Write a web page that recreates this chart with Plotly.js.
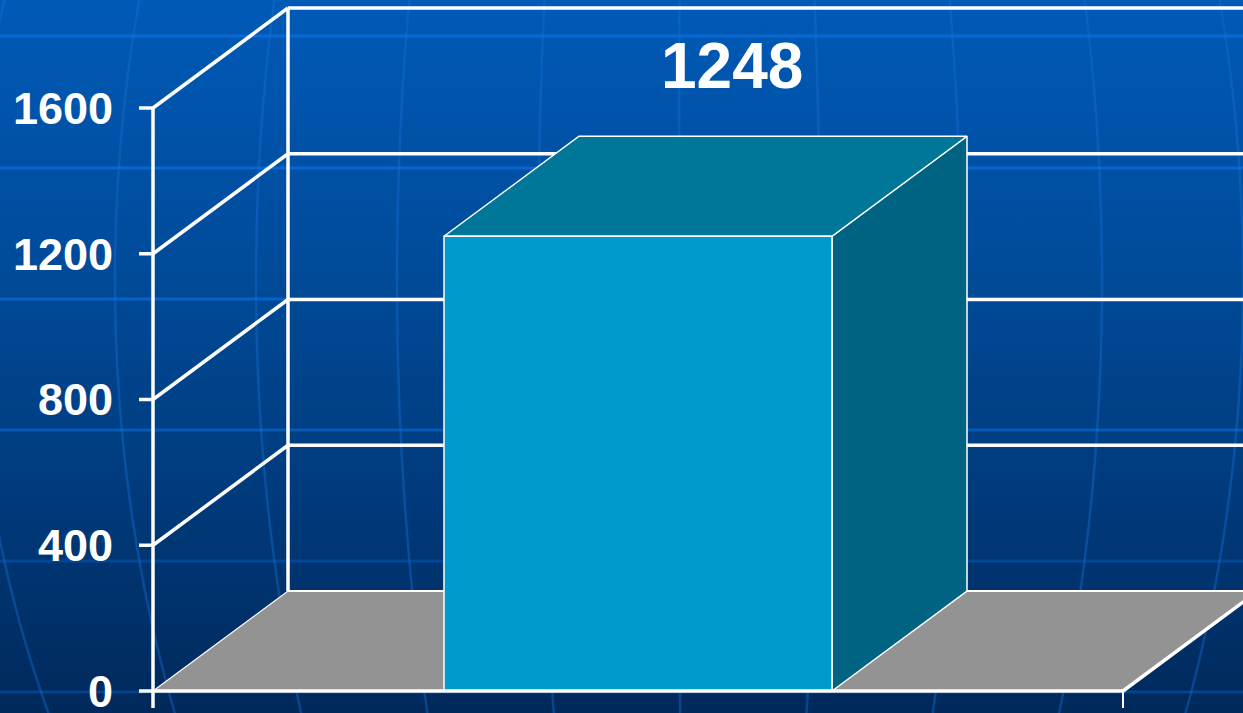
<!DOCTYPE html>
<html><head><meta charset="utf-8">
<script src="https://cdn.plot.ly/plotly-3.0.1.min.js"></script>
<style>
html,body{margin:0;padding:0;width:1243px;height:713px;overflow:hidden;background:#003a7c;}
#bg{position:absolute;left:0;top:0;width:1243px;height:713px;background:linear-gradient(to bottom,#005ab6 0%,#004c9c 35%,#003d80 65%,#00295b 100%);}
#chart{position:absolute;left:0;top:0;width:1243px;height:713px;}
</style></head><body>
<div id="bg"><svg id="deco" width="1243" height="713" xmlns="http://www.w3.org/2000/svg"></svg></div>
<div id="chart"></div>
<script>
// ---- data ----
const categories = ['Total'];
const values = [1248];
const valueLabels = ['1248'];
const yTickValues = [0, 400, 800, 1200, 1600];
const yTickLabels = ['0', '400', '800', '1200', '1600'];

// ---- geometry / style ----
const W = 1243, H = 713;
const marginL = 120;
const frontX0px = 153;      // pixel of the front-left corner of the floor
const slotPx = 970;         // pixel width of one category slot
const zeroPx = 691;         // pixel of value 0 on the front plane
const topTickPx = 108;      // pixel of the top tick on the front plane
const depthPx = {x: 135, y: 100};
const barFrac = 0.4;
const tickLenPx = 14, axisExtPx = 17;
const gridW = 3.5;
const white = '#ffffff';
const colFront = '#009bcc', colTop = '#007698', colSide = '#006381', colFloor = '#939393';
const fontFam = '"Liberation Sans", Arial, sans-serif';

const maxTick = yTickValues[yTickValues.length - 1];
const pxPerUnit = (zeroPx - topTickPx) / maxTick;
const xRange = [-0.5 - (frontX0px - marginL) / slotPx, -0.5 + (W - frontX0px) / slotPx];
const yRange = [-(H - zeroPx) / pxPerUnit, zeroPx / pxPerUnit];
const dx = depthPx.x / slotPx, dy = depthPx.y / pxPerUnit;
const x0 = -0.5, x1 = categories.length - 0.5;
const yExt = -axisExtPx / pxPerUnit;
const farRight = xRange[1] + 1;

// ---- background decoration (globe lines) ----
(function () {
  const svg = document.getElementById('deco');
  const ns = 'http://www.w3.org/2000/svg';
  const hLines = [36, 168, 299, 430, 561, 692];
  const hOp = [0.9, 0.85, 0.75, 0.6, 0.35, 0.4];
  hLines.forEach((y, k) => {
    const l = document.createElementNS(ns, 'line');
    l.setAttribute('x1', 0); l.setAttribute('x2', W);
    l.setAttribute('y1', y); l.setAttribute('y2', y);
    l.setAttribute('stroke', '#0a6ad8'); l.setAttribute('stroke-width', 3);
    l.setAttribute('stroke-opacity', hOp[k]);
    svg.appendChild(l);
  });
  const amps = [-716, -575, -434, -293, -152, -11, 130, 271, 412, 553];
  amps.forEach(a => {
    let d = '';
    for (let y = -10; y <= H + 10; y += 8) {
      const t = (y - 280) / 975;
      const x = 690 + a * Math.sqrt(1 - t * t);
      d += (d ? ' L' : 'M') + x.toFixed(1) + ' ' + y;
    }
    const p = document.createElementNS(ns, 'path');
    p.setAttribute('d', d); p.setAttribute('fill', 'none');
    p.setAttribute('stroke', '#1470d8'); p.setAttribute('stroke-width', 2.5);
    p.setAttribute('stroke-opacity', 0.4);
    svg.appendChild(p);
  });
})();

// ---- traces ----
const traces = [];
function seg(xs, ys, width) {
  traces.push({type: 'scatter', mode: 'lines', x: xs, y: ys,
    line: {color: white, width: width}, hoverinfo: 'skip', showlegend: false});
}
function poly(xs, ys, fill, lw) {
  traces.push({type: 'scatter', mode: 'lines', x: xs, y: ys, fill: 'toself',
    fillcolor: fill, line: {color: white, width: lw}, hoverinfo: 'skip', showlegend: false});
}

// floor
poly([x0, x1, x1 + dx, x0 + dx, x0], [0, 0, dy, dy, 0], colFloor, 1.2);
// back floor edge
seg([x0 + dx, farRight], [dy, dy], 2);
// gridlines: left wall diagonals + back wall horizontals
yTickValues.forEach(v => {
  if (v === 0) return;
  seg([x0, x0 + dx], [v, v + dy], gridW);
  seg([x0 + dx, farRight], [v + dy, v + dy], gridW);
});
// back wall vertical
seg([x0 + dx, x0 + dx], [dy, maxTick + dy], gridW);
// front y axis + ticks
seg([x0, x0], [maxTick, yExt], gridW);
yTickValues.forEach(v => seg([x0 - tickLenPx / slotPx, x0], [v, v], gridW));
// floor right edge + category tick
seg([x1, x1 + dx], [0, dy], gridW);
seg([x1, x1], [0, yExt], 2);

// bars
values.forEach((v, i) => {
  const xl = i - barFrac / 2, xr = i + barFrac / 2;
  poly([xr, xr + dx, xr + dx, xr, xr], [0, dy, v + dy, v, 0], colSide, 1.5);
  poly([xl, xr, xr + dx, xl + dx, xl], [v, v, v + dy, v + dy, v], colTop, 1.5);
  poly([xl, xr, xr, xl, xl], [0, 0, v, v, 0], colFront, 1.5);
});
// front floor edge (x axis)
seg([x0, x1], [0, 0], gridW);

const annotations = values.map((v, i) => ({
  x: i + dx / 2, y: v + dy, xref: 'x', yref: 'y',
  text: valueLabels[i], showarrow: false,
  xshift: 26, yshift: 70, yanchor: 'middle', xanchor: 'center',
  font: {family: fontFam, size: 64, color: white, weight: 'bold'}
}));

const layout = {
  width: W, height: H,
  margin: {l: marginL, r: 0, t: 0, b: 0, pad: 0},
  paper_bgcolor: 'rgba(0,0,0,0)', plot_bgcolor: 'rgba(0,0,0,0)',
  showlegend: false,
  xaxis: {range: xRange, showgrid: false, zeroline: false, showline: false,
    showticklabels: false, ticks: '', fixedrange: true},
  yaxis: {range: yRange, showgrid: false, zeroline: false, showline: false,
    tickmode: 'array', tickvals: yTickValues, ticktext: yTickLabels, ticks: '',
    ticklabelstandoff: 6, ticklabeloverflow: 'allow',
    tickfont: {family: fontFam, size: 45, color: white, weight: 'bold'}, fixedrange: true},
  annotations: annotations
};

Plotly.newPlot('chart', traces, layout, {displayModeBar: false, staticPlot: true});
</script>
</body></html>
